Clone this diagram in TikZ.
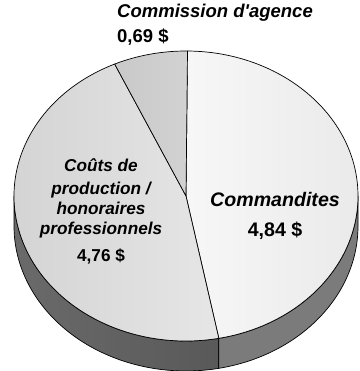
\documentclass[tikz,border=0pt]{standalone}
\usepackage{fontspec}
\setmainfont{Liberation Sans}[Ligatures=TeXOff]
\usetikzlibrary{calc}

\definecolor{sponsortop}{HTML}{F7F7F7}
\definecolor{sponsorend}{HTML}{EAEAEA}
\definecolor{costtop}{HTML}{D3D3D3}
\definecolor{costend}{HTML}{E6E6E6}
\definecolor{feetop}{HTML}{C9C9C9}
\definecolor{feeend}{HTML}{D2D2D2}
\definecolor{costside}{HTML}{6A6A6A}
\definecolor{costsidedark}{HTML}{595959}
\definecolor{sponsorside}{HTML}{7B7B7B}

\begin{document}
\begin{tikzpicture}[x=1pt, y=1pt,
  slice/.style={draw=black, line width=0.7pt, line join=round},
  wall/.style={draw=black, line width=0.7pt, line join=round},
  head/.style={inner sep=0pt, font=\bfseries\itshape},
  amount/.style={inner sep=0pt, font=\bfseries}]
  \useasboundingbox (0,0) rectangle (359,371);
  \coordinate (c) at (186,175);

  % side of the pie
  \path[wall, left color=costside, right color=costsidedark]
    (c) ++(180:172 and 145) arc[start angle=180, end angle=281, x radius=172, y radius=145]
    -- ++(0,-30) arc[start angle=281, end angle=180, x radius=172, y radius=145] -- cycle;
  \path[wall, fill=sponsorside]
    (c) ++(281:172 and 145) arc[start angle=281, end angle=360, x radius=172, y radius=145]
    -- ++(0,-30) arc[start angle=360, end angle=281, x radius=172, y radius=145] -- cycle;

  % top of the pie
  \path[slice, left color=sponsortop, right color=sponsorend]
    (c) -- ++(89.5:172 and 145) arc[start angle=89.5, end angle=-79, x radius=172, y radius=145] -- cycle;
  \path[slice, left color=costtop, right color=costend]
    (c) -- ++(-79:172 and 145) arc[start angle=-79, end angle=-245.5, x radius=172, y radius=145] -- cycle;
  \path[slice, left color=feetop, right color=feeend]
    (c) -- ++(114.5:172 and 145) arc[start angle=114.5, end angle=89.5, x radius=172, y radius=145] -- cycle;

  % labels
  \node[head, anchor=base west, font=\fontsize{18.5}{22}\selectfont\bfseries\itshape] (feename) at (117,353) {Commission d'agence};
  \node[amount, anchor=base west, font=\fontsize{18.5}{22}\selectfont\bfseries] (feeval) at (117,328) {0,69 \$};

  \node[head, anchor=base, font=\fontsize{19.6}{23}\selectfont\bfseries\itshape] (sponsorname) at (275,164) {Commandites};
  \node[amount, anchor=base, font=\fontsize{19.6}{23}\selectfont\bfseries] (sponsorval) at (275,134) {4,84 \$};

  \node[head, anchor=base, font=\fontsize{17.2}{21}\selectfont\bfseries\itshape] (cost1) at (101,199) {Coûts de};
  \node[head, anchor=base, font=\fontsize{17.2}{21}\selectfont\bfseries\itshape] (cost2) at (101,176) {production /};
  \node[head, anchor=base, font=\fontsize{17.2}{21}\selectfont\bfseries\itshape] (cost3) at (101,156) {honoraires};
  \node[head, anchor=base, font=\fontsize{17.2}{21}\selectfont\bfseries\itshape] (cost4) at (101,136) {professionnels};
  \node[amount, anchor=base, font=\fontsize{17.2}{21}\selectfont\bfseries] (costval) at (101,109) {4,76 \$};
\end{tikzpicture}
\end{document}
